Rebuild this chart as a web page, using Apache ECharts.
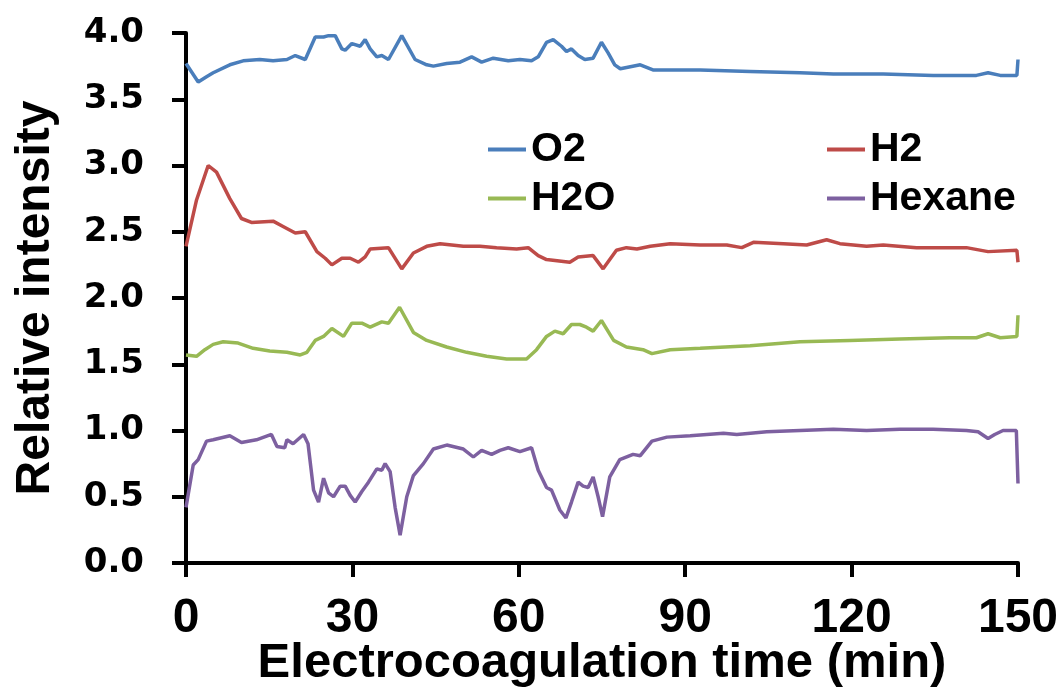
<!DOCTYPE html>
<html>
<head>
<meta charset="utf-8">
<script src="https://cdn.jsdelivr.net/npm/echarts@6/dist/echarts.min.js"></script>
<style>
html, body { margin: 0; padding: 0; background: #fff; }
#main { width: 1060px; height: 691px; }
</style>
</head>
<body>
<div id="main"></div>
<script>
// [time (min), relative intensity]
var o2Data = [[0,3.77],[2.2,3.63],[3.7,3.67],[4.9,3.70],[7.9,3.76],[10.3,3.79],[13.3,3.80],[15.7,3.79],[18.2,3.80],[19.7,3.83],[21.5,3.80],[23.3,3.97],[24.8,3.97],[25.7,3.98],[26.9,3.98],[28.1,3.88],[28.7,3.87],[29.9,3.92],[31.4,3.90],[32.3,3.95],[33.2,3.88],[34.4,3.82],[35.3,3.83],[36.5,3.80],[38.9,3.98],[41.3,3.80],[43.4,3.76],[44.6,3.75],[47.0,3.77],[49.4,3.78],[51.5,3.82],[53.3,3.78],[55.4,3.81],[58.1,3.79],[60.2,3.80],[62.3,3.79],[63.5,3.82],[65.0,3.93],[66.2,3.95],[67.7,3.90],[68.6,3.86],[69.5,3.88],[70.7,3.83],[71.9,3.80],[73.4,3.81],[74.9,3.93],[76.1,3.85],[77.3,3.76],[78.3,3.73],[81.9,3.76],[84.3,3.72],[92.7,3.72],[101.7,3.71],[110.7,3.70],[116.7,3.69],[125.7,3.69],[134.7,3.68],[142.5,3.68],[144.6,3.70],[146.8,3.68],[149.8,3.68],[150,3.80]];
var h2Data = [[0,2.39],[1.9,2.74],[4.0,3.00],[5.5,2.95],[7.9,2.75],[10.0,2.60],[11.8,2.57],[15.7,2.58],[17.5,2.54],[19.7,2.49],[21.5,2.50],[23.6,2.35],[25.1,2.30],[26.3,2.25],[28.1,2.30],[29.6,2.30],[31.1,2.27],[32.3,2.31],[33.2,2.37],[36.5,2.38],[37.4,2.32],[38.9,2.22],[41.0,2.34],[43.4,2.39],[45.8,2.41],[50.0,2.39],[53.0,2.39],[56.0,2.38],[59.6,2.37],[61.7,2.38],[63.5,2.32],[65.0,2.29],[69.2,2.27],[70.7,2.31],[73.4,2.32],[75.2,2.22],[77.6,2.36],[79.4,2.38],[81.3,2.37],[83.7,2.39],[87.3,2.41],[92.7,2.40],[97.5,2.40],[100.2,2.38],[102.3,2.42],[107.7,2.41],[111.9,2.40],[115.5,2.44],[117.9,2.41],[122.7,2.39],[125.7,2.40],[131.7,2.38],[137.7,2.38],[140.7,2.38],[144.6,2.35],[149.8,2.36],[150,2.27]];
var h2oData = [[0,1.57],[1.9,1.56],[3.4,1.61],[4.9,1.65],[6.7,1.67],[9.4,1.66],[12.1,1.62],[15.1,1.60],[18.2,1.59],[20.6,1.57],[21.8,1.59],[23.3,1.68],[24.8,1.71],[26.3,1.77],[28.4,1.71],[29.9,1.81],[31.7,1.81],[33.2,1.78],[35.3,1.82],[36.5,1.81],[38.5,1.93],[41.0,1.74],[43.4,1.68],[47.0,1.63],[50.6,1.59],[54.2,1.56],[57.8,1.54],[61.4,1.54],[63.2,1.61],[65.0,1.71],[66.5,1.75],[68.0,1.73],[69.5,1.80],[71.0,1.80],[72.2,1.78],[73.4,1.75],[74.9,1.83],[77.1,1.68],[79.4,1.63],[82.4,1.61],[84.0,1.58],[87.3,1.61],[92.7,1.62],[101.7,1.64],[110.7,1.67],[119.7,1.68],[128.7,1.69],[137.7,1.70],[142.5,1.70],[144.6,1.73],[146.8,1.70],[149.8,1.71],[150,1.87]];
var hexaneData = [[0,0.42],[1.3,0.74],[2.2,0.78],[3.7,0.92],[4.9,0.93],[7.9,0.96],[10.0,0.91],[12.7,0.93],[15.4,0.97],[16.4,0.88],[17.8,0.87],[18.2,0.93],[19.3,0.90],[21.2,0.97],[22.0,0.90],[23.0,0.55],[23.9,0.46],[24.8,0.64],[25.7,0.53],[26.6,0.50],[27.8,0.58],[28.7,0.58],[29.6,0.51],[30.5,0.46],[31.7,0.54],[32.9,0.61],[34.4,0.71],[35.3,0.70],[35.9,0.75],[36.8,0.69],[37.7,0.42],[38.6,0.21],[39.8,0.50],[41.0,0.66],[42.8,0.75],[44.6,0.86],[47.0,0.89],[50.0,0.86],[51.8,0.80],[53.3,0.85],[55.1,0.82],[56.6,0.85],[58.1,0.87],[60.2,0.84],[62.3,0.87],[63.5,0.70],[65.0,0.57],[65.9,0.55],[67.4,0.40],[68.5,0.34],[69.5,0.46],[70.7,0.61],[71.6,0.58],[72.5,0.57],[73.4,0.65],[74.3,0.50],[75.1,0.35],[76.4,0.65],[78.2,0.78],[80.6,0.82],[81.9,0.81],[84.0,0.92],[86.7,0.95],[90.9,0.96],[96.9,0.98],[99.3,0.97],[104.7,0.99],[110.7,1.00],[116.7,1.01],[122.7,1.00],[128.7,1.01],[134.7,1.01],[140.7,1.00],[142.8,0.99],[144.6,0.94],[145.8,0.97],[147.3,1.00],[149.7,1.00],[150,0.60]];

var seriesNames = ['O2', 'H2', 'H2O', 'Hexane'];
var seriesColors = ['#4A7EBB', '#BE4B48', '#98B954', '#7D60A0'];
var seriesData = [o2Data, h2Data, h2oData, hexaneData];

var chart = echarts.init(document.getElementById('main'));

var legendText = { fontFamily: 'Liberation Sans', fontWeight: 'bold', fontSize: 41, color: '#000' };

var option = {
    animation: false,
    grid: { left: 186, right: 42, top: 33, bottom: 128, outerBoundsMode: 'none', containLabel: false },
    legend: [
        {
            orient: 'vertical', left: 483, top: 124,
            data: ['O2', 'H2O'],
            icon: 'rect', itemWidth: 38, itemHeight: 4, itemGap: 8,
            textStyle: legendText
        },
        {
            orient: 'vertical', left: 822, top: 124,
            data: ['H2', 'Hexane'],
            icon: 'rect', itemWidth: 38, itemHeight: 4, itemGap: 8,
            textStyle: legendText
        }
    ],
    xAxis: {
        type: 'value', min: 0, max: 150, interval: 30,
        name: 'Electrocoagulation time (min)',
        nameLocation: 'middle', nameGap: 76, nameMoveOverlap: false,
        nameTextStyle: { fontFamily: 'Liberation Sans', fontWeight: 'bold', fontSize: 49, color: '#000' },
        axisLine: { lineStyle: { color: '#000', width: 4 } },
        axisTick: { length: 14, lineStyle: { color: '#000', width: 4 } },
        axisLabel: { margin: 32, fontFamily: 'Liberation Sans', fontWeight: 'bold', fontSize: 48, color: '#000' },
        splitLine: { show: false }
    },
    yAxis: {
        type: 'value', min: 0, max: 4, interval: 0.5,
        name: 'Relative intensity',
        nameLocation: 'middle', nameGap: 126, nameRotate: 90, nameMoveOverlap: false,
        nameTextStyle: { fontFamily: 'Liberation Sans', fontWeight: 'bold', fontSize: 48, color: '#000' },
        axisLine: { show: true, lineStyle: { color: '#000', width: 4 } },
        axisTick: { show: true, length: 14, lineStyle: { color: '#000', width: 4 } },
        axisLabel: {
            margin: 42, fontFamily: 'DejaVu Sans', fontWeight: 'bold', fontSize: 34, color: '#000',
            formatter: function (v) { return v.toFixed(1); }
        },
        splitLine: { show: false }
    },
    series: seriesNames.map(function (name, i) {
        return {
            name: name,
            type: 'line',
            data: seriesData[i],
            symbol: 'none',
            color: seriesColors[i],
            lineStyle: { width: 3.5, color: seriesColors[i] }
        };
    })
};

chart.setOption(option);
</script>
</body>
</html>
